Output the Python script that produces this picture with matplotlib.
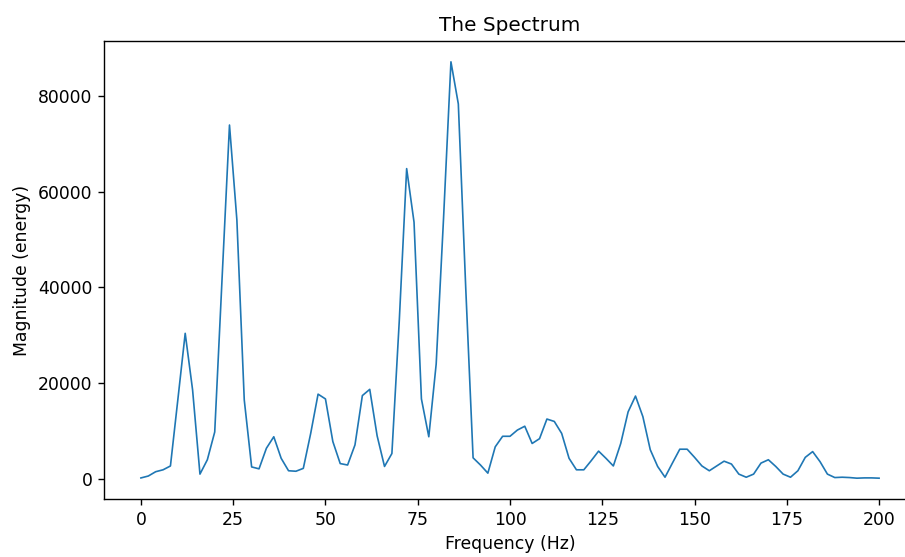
# Spectrum plot - magnitude vs frequency

import numpy as np
import matplotlib
matplotlib.use("Agg")
import matplotlib.pyplot as plt

# frequency grid (Hz), sampled every 2 Hz
freqs = np.arange(0, 202, 2)

# magnitudes
magnitude = [
    200, 600, 1500, 1900, 2700, 16500, 30400, 18600, 1000, 4000,
    9800, 42000, 73900, 54100, 16500, 2500, 2100, 6400, 8800, 4300,
    1700, 1600, 2200, 9500, 17700, 16700, 7800, 3200, 2900, 7100,
    17400, 18700, 9000, 2600, 5300, 33000, 64800, 53600, 16700, 8800,
    24000, 54500, 87100, 78300, 40000, 4400, 2900, 1200, 6700, 8900,
    8900, 10200, 11000, 7400, 8400, 12500, 12000, 9500, 4300, 1900,
    1900, 3800, 5800, 4300, 2700, 7400, 14000, 17300, 13000, 6100,
    2600, 350, 3300, 6200, 6200, 4500, 2700, 1700, 2700, 3700,
    3100, 1000, 350, 1000, 3300, 4000, 2600, 1000, 350, 1700,
    4500, 5700, 3600, 1000, 280, 350, 280, 150, 210, 210,
    150,
]

x_ticks = [0, 25, 50, 75, 100, 125, 150, 175, 200]
y_ticks = [0, 20000, 40000, 60000, 80000]

fig = plt.figure(figsize=(9.05, 5.57), dpi=100)
# axes run a bit past the right edge, like the cropped original
ax = fig.add_axes([104 / 905, 58 / 557, 812 / 905, 458 / 557])

ax.plot(freqs, magnitude, color="#1f77b4", linewidth=1.2)

ax.set_title("The Spectrum", fontsize=14.4, pad=7.2)
ax.set_xlabel("Frequency (Hz)", fontsize=12.4, labelpad=4.8)
ax.set_ylabel("Magnitude (energy)", fontsize=12.4, labelpad=4.8)
ax.set_xticks(x_ticks)
ax.set_yticks(y_ticks)
ax.tick_params(labelsize=12.4, length=4.2, width=1, pad=4.2)
for s in ax.spines.values():
    s.set_linewidth(1)

fig.savefig("out.png", dpi=100)
